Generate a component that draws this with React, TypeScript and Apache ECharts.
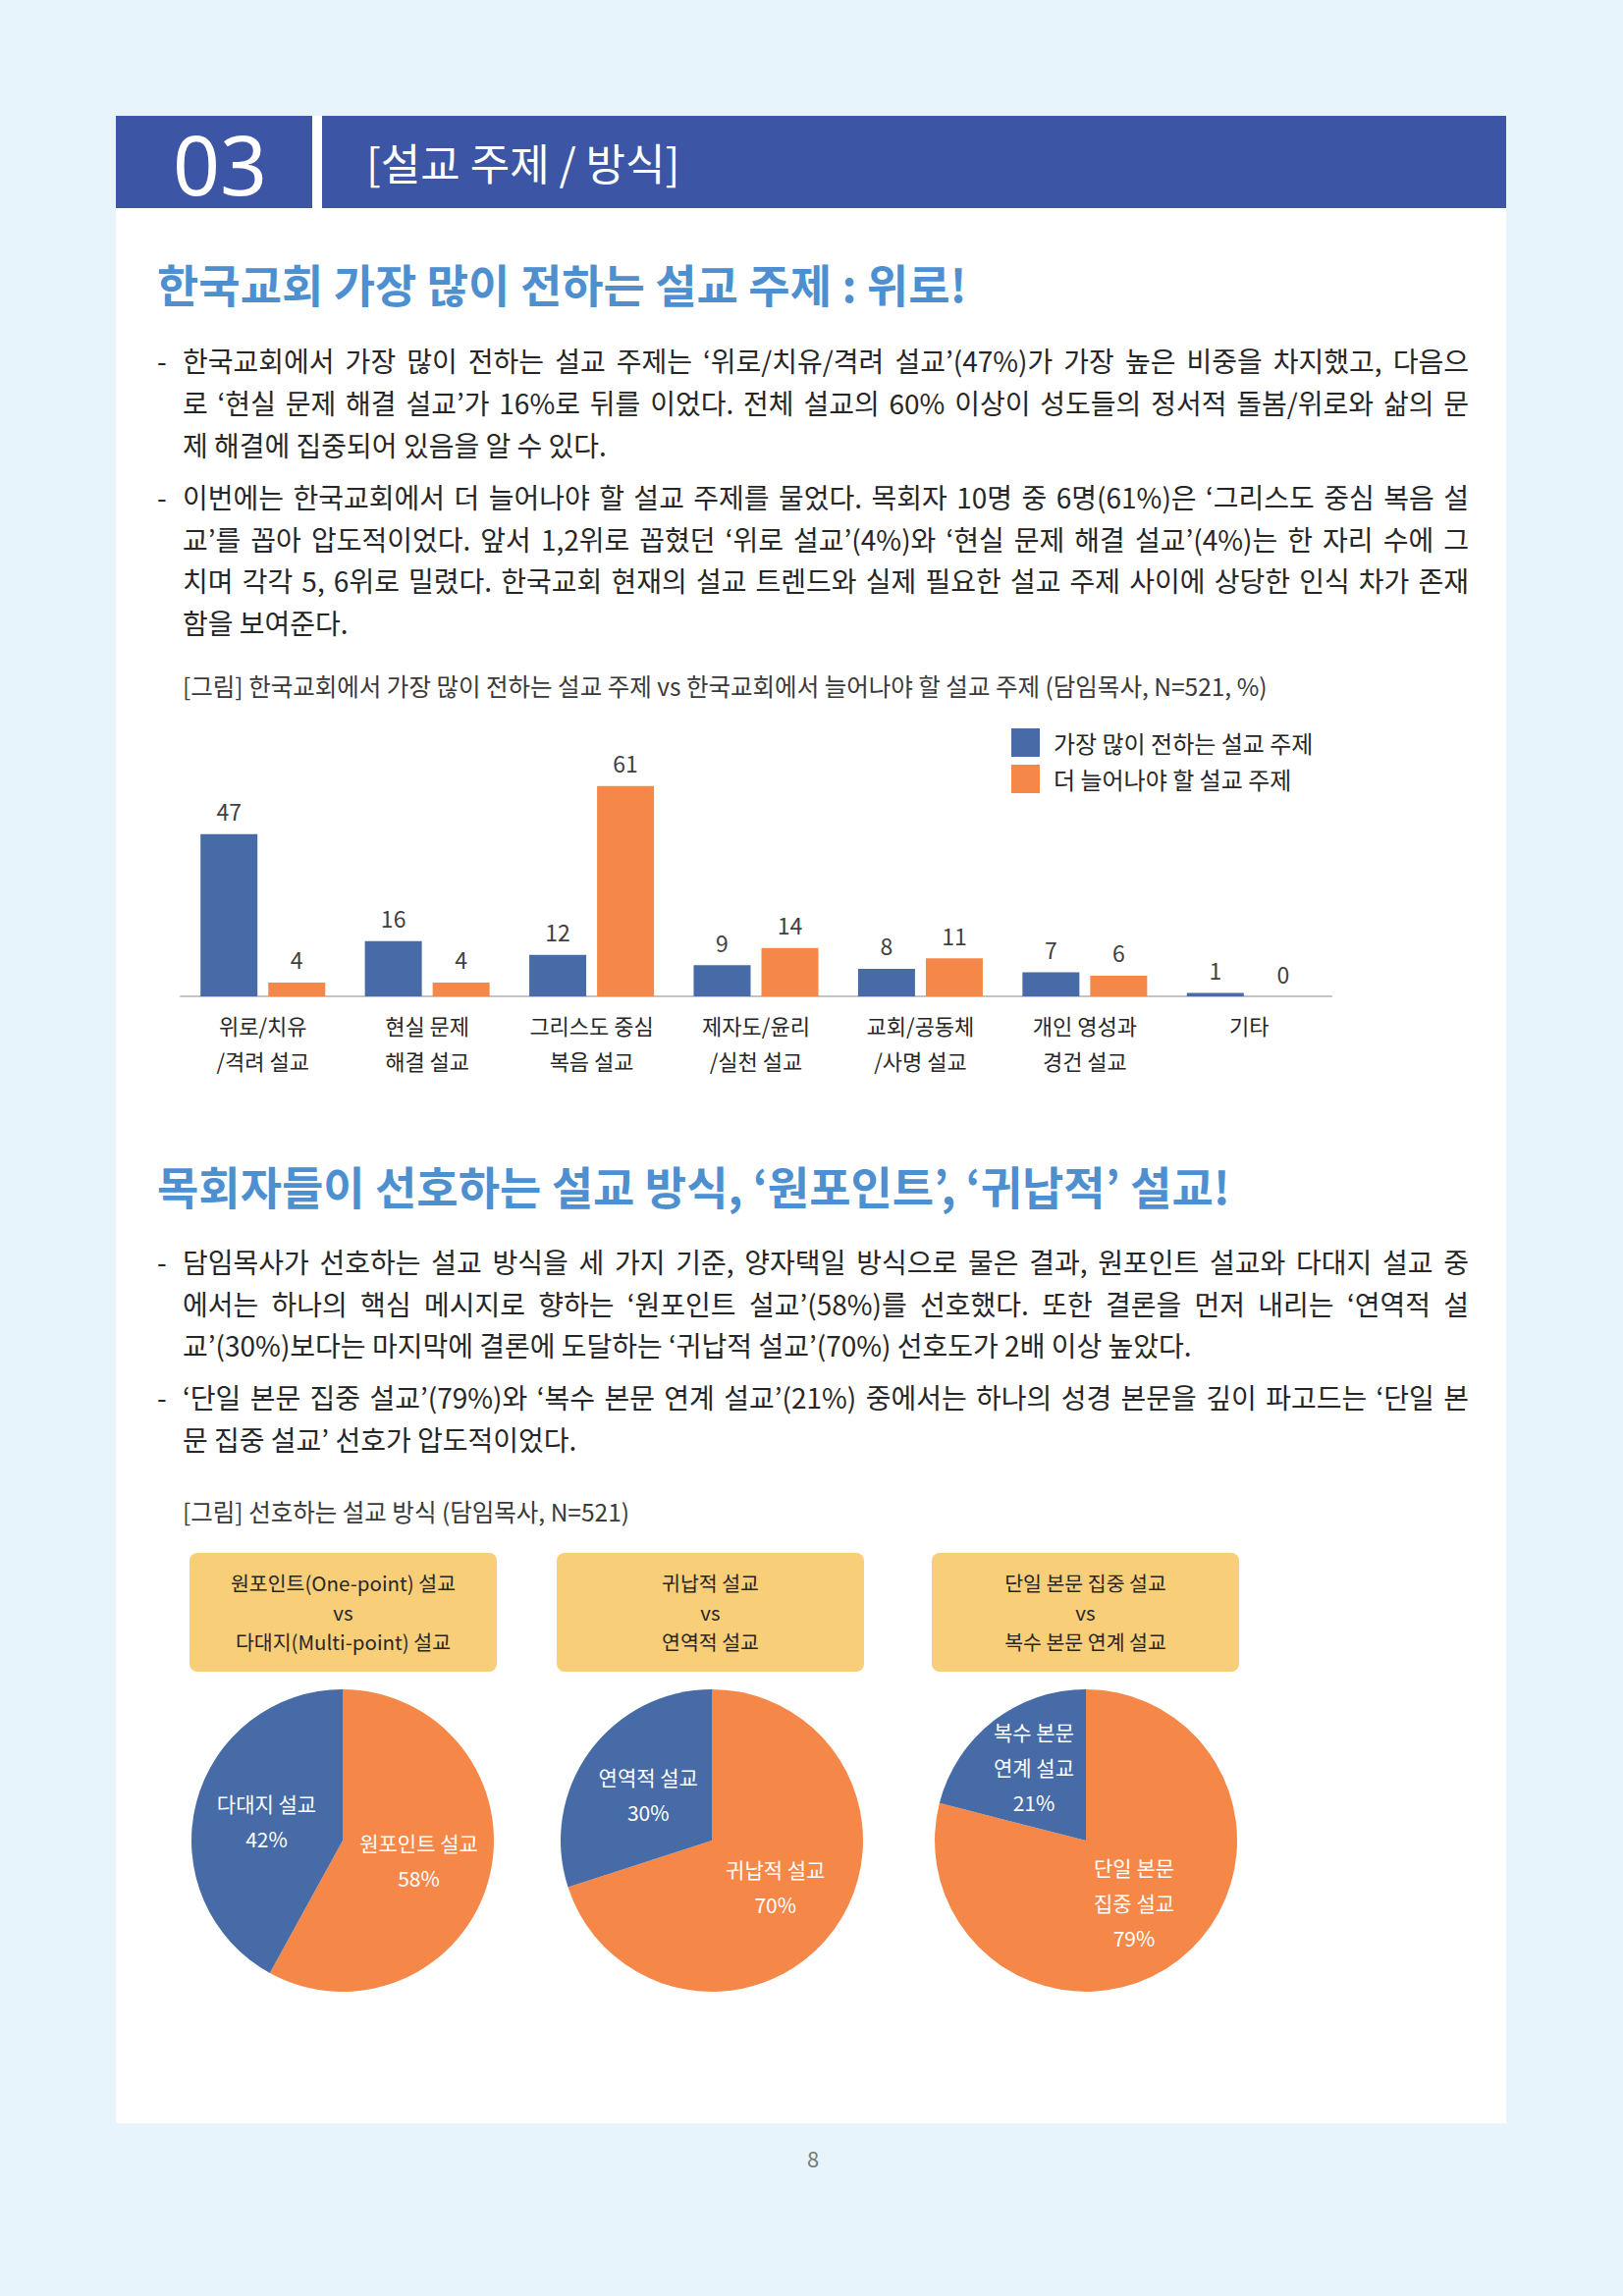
import React, { useEffect, useRef } from "react";
import * as echarts from "echarts";

// ---- chart data ----
const topicCategories = [
  "위로/치유\n/격려 설교",
  "현실 문제\n해결 설교",
  "그리스도 중심\n복음 설교",
  "제자도/윤리\n/실천 설교",
  "교회/공동체\n/사명 설교",
  "개인 영성과\n경건 설교",
  "기타",
];
const mostPreached = [47, 16, 12, 9, 8, 7, 1];
const shouldIncrease = [4, 4, 61, 14, 11, 6, 0];
const barSeriesNames = ["가장 많이 전하는 설교 주제", "더 늘어나야 할 설교 주제"];

const onePointNames = ["원포인트 설교", "다대지 설교"];
const onePointValues = [58, 42];
const inductiveNames = ["귀납적 설교", "연역적 설교"];
const inductiveValues = [70, 30];
const singleTextNames = ["단일 본문\n집중 설교", "복수 본문\n연계 설교"];
const singleTextValues = [79, 21];

const pieBoxTitles = [
  ["원포인트(One-point) 설교", "vs", "다대지(Multi-point) 설교"],
  ["귀납적 설교", "vs", "연역적 설교"],
  ["단일 본문 집중 설교", "vs", "복수 본문 연계 설교"],
];

// ---- page text ----
const sectionNo = "03";
const sectionTitle = "[설교 주제 / 방식]";
const heading1 = "한국교회 가장 많이 전하는 설교 주제 : 위로!";
const heading2 = "목회자들이 선호하는 설교 방식, ‘원포인트’, ‘귀납적’ 설교!";
const para1 = [
  "한국교회에서 가장 많이 전하는 설교 주제는 ‘위로/치유/격려 설교’(47%)가 가장 높은 비중을 차지했고, 다음으",
  "로 ‘현실 문제 해결 설교’가 16%로 뒤를 이었다. 전체 설교의 60% 이상이 성도들의 정서적 돌봄/위로와 삶의 문",
  "제 해결에 집중되어 있음을 알 수 있다.",
];
const para2 = [
  "이번에는 한국교회에서 더 늘어나야 할 설교 주제를 물었다. 목회자 10명 중 6명(61%)은 ‘그리스도 중심 복음 설",
  "교’를 꼽아 압도적이었다. 앞서 1,2위로 꼽혔던 ‘위로 설교’(4%)와 ‘현실 문제 해결 설교’(4%)는 한 자리 수에 그",
  "치며 각각 5, 6위로 밀렸다. 한국교회 현재의 설교 트렌드와 실제 필요한 설교 주제 사이에 상당한 인식 차가 존재",
  "함을 보여준다.",
];
const para3 = [
  "담임목사가 선호하는 설교 방식을 세 가지 기준, 양자택일 방식으로 물은 결과, 원포인트 설교와 다대지 설교 중",
  "에서는 하나의 핵심 메시지로 향하는 ‘원포인트 설교’(58%)를 선호했다. 또한 결론을 먼저 내리는 ‘연역적 설",
  "교’(30%)보다는 마지막에 결론에 도달하는 ‘귀납적 설교’(70%) 선호도가 2배 이상 높았다.",
];
const para4 = [
  "‘단일 본문 집중 설교’(79%)와 ‘복수 본문 연계 설교’(21%) 중에서는 하나의 성경 본문을 깊이 파고드는 ‘단일 본",
  "문 집중 설교’ 선호가 압도적이었다.",
];
const caption1 = "[그림] 한국교회에서 가장 많이 전하는 설교 주제 vs 한국교회에서 늘어나야 할 설교 주제 (담임목사, N=521, %)";
const caption2 = "[그림] 선호하는 설교 방식 (담임목사, N=521)";
const pageNumber = "8";

const FONT = "'Noto Sans CJK KR', 'Noto Sans', sans-serif";
const BLUE = "#466BA6";
const ORANGE = "#F58849";
const TEXT = "#262626";

const BODY_LEFT = 186;
const BODY_RIGHT = 1496;
const BODY_SIZE = 28;

let measureCtx: CanvasRenderingContext2D | null = null;
function measure(text: string, font: string) {
  if (!measureCtx) measureCtx = document.createElement("canvas").getContext("2d");
  if (!measureCtx) return text.length * BODY_SIZE;
  measureCtx.font = font;
  return measureCtx.measureText(text).width;
}

// One bulleted paragraph; every line but the last is justified across the column.
function paragraph(lines: string[], ys: number[]) {
  const font = `${BODY_SIZE}px ${FONT}`;
  const els: any[] = [
    {
      type: "text",
      x: 160,
      y: ys[0],
      style: { text: "-", font, fill: TEXT, verticalAlign: "middle" },
    },
  ];
  lines.forEach((line, i) => {
    const last = i === lines.length - 1;
    const words = line.split(" ");
    if (last || words.length < 2) {
      els.push({
        type: "text",
        x: BODY_LEFT,
        y: ys[i],
        style: { text: line, font, fill: TEXT, verticalAlign: "middle" },
      });
      return;
    }
    const widths = words.map((w) => measure(w, font));
    const total = widths.reduce((a, b) => a + b, 0);
    const gap = (BODY_RIGHT - BODY_LEFT - total) / (words.length - 1);
    let x = BODY_LEFT;
    words.forEach((w, k) => {
      els.push({
        type: "text",
        x,
        y: ys[i],
        style: { text: w, font, fill: TEXT, verticalAlign: "middle" },
      });
      x += widths[k] + gap;
    });
  });
  return els;
}

function pieSeries(names: string[], values: number[], cx: number, smallOffset?: number[]) {
  return {
    type: "pie",
    center: [cx, 1875],
    radius: 154,
    startAngle: 90,
    clockwise: true,
    silent: true,
    label: {
      show: true,
      position: "inside",
      color: "#ffffff",
      fontSize: 21,
      lineHeight: 36,
      fontFamily: FONT,
      formatter: "{b}\n{c}%",
    },
    labelLine: { show: false },
    data: names.map((n, i) => ({
      name: n,
      value: values[i],
      itemStyle: { color: i === 0 ? ORANGE : BLUE },
      label: i === 1 && smallOffset ? { offset: smallOffset } : undefined,
    })),
  };
}

export default function App() {
  const ref = useRef<HTMLDivElement>(null);

  useEffect(() => {
    if (!ref.current) return;
    const chart = echarts.init(ref.current, null, { renderer: "svg" });

    const boxLefts = [193, 567, 949];
    const boxEls: any[] = [];
    pieBoxTitles.forEach((lines, i) => {
      boxEls.push({
        type: "rect",
        shape: { x: boxLefts[i], y: 1582, width: 313, height: 121, r: 8 },
        style: { fill: "#F9CE78" },
      });
      lines.forEach((t, j) => {
        boxEls.push({
          type: "text",
          x: boxLefts[i] + 156.5,
          y: 1612 + j * 30,
          style: {
            text: t,
            font: `20.5px ${FONT}`,
            fill: TEXT,
            align: "center",
            verticalAlign: "middle",
          },
        });
      });
    });

    const option: any = {
      animation: false,
      backgroundColor: "#E8F4FC",
      graphic: [
        { type: "rect", z: -10, shape: { x: 118, y: 118, width: 1416, height: 2045 }, style: { fill: "#ffffff" } },
        { type: "rect", shape: { x: 118, y: 118, width: 200, height: 94 }, style: { fill: "#3C55A4" } },
        { type: "rect", shape: { x: 328, y: 118, width: 1206, height: 94 }, style: { fill: "#3C55A4" } },
        {
          type: "text",
          x: 224,
          y: 166,
          style: {
            text: sectionNo,
            font: `84px 'Liberation Sans Narrow', 'Noto Sans', sans-serif`,
            fill: "#ffffff",
            align: "center",
            verticalAlign: "middle",
          },
        },
        {
          type: "text",
          x: 373,
          y: 165,
          style: { text: sectionTitle, font: `44px ${FONT}`, fill: "#ffffff", verticalAlign: "middle" },
        },
        {
          type: "text",
          x: 160,
          y: 288,
          style: { text: heading1, font: `bold 46px ${FONT}`, fill: "#4E8FD0", verticalAlign: "middle" },
        },
        ...paragraph(para1, [367, 410, 453]),
        ...paragraph(para2, [506, 549, 591, 634]),
        {
          type: "text",
          x: 186,
          y: 698,
          style: { text: caption1, font: `24.5px ${FONT}`, fill: "#3a3a3a", verticalAlign: "middle" },
        },
        {
          type: "text",
          x: 160,
          y: 1207,
          style: { text: heading2, font: `bold 46px ${FONT}`, fill: "#4E8FD0", verticalAlign: "middle" },
        },
        ...paragraph(para3, [1285, 1328, 1370]),
        ...paragraph(para4, [1423, 1466]),
        {
          type: "text",
          x: 186,
          y: 1539,
          style: { text: caption2, font: `24.5px ${FONT}`, fill: "#3a3a3a", verticalAlign: "middle" },
        },
        ...boxEls,
        {
          type: "text",
          x: 828,
          y: 2198,
          style: { text: pageNumber, font: `22px ${FONT}`, fill: "#7a7a7a", align: "center", verticalAlign: "middle" },
        },
      ],
      legend: {
        orient: "vertical",
        left: 1030,
        top: 742,
        padding: 0,
        itemWidth: 29,
        itemHeight: 29,
        itemGap: 8,
        icon: "rect",
        data: barSeriesNames,
        textStyle: { fontSize: 24, color: TEXT, fontFamily: FONT, padding: [0, 0, 0, 9] },
      },
      grid: { left: 184, width: 1172, top: 769, height: 246 },
      xAxis: {
        type: "category",
        data: topicCategories,
        axisLine: { lineStyle: { color: "#C4C4C4", width: 2 } },
        axisTick: { show: false },
        axisLabel: {
          fontSize: 22,
          lineHeight: 36,
          color: TEXT,
          fontFamily: FONT,
          margin: 11,
          interval: 0,
        },
      },
      yAxis: { type: "value", min: 0, max: 70, show: false, splitLine: { show: false } },
      series: [
        {
          name: barSeriesNames[0],
          type: "bar",
          data: mostPreached,
          barWidth: 58,
          barGap: "19%",
          itemStyle: { color: BLUE },
          label: { show: true, position: "top", distance: 12, fontSize: 23, color: "#404040", fontFamily: FONT },
        },
        {
          name: barSeriesNames[1],
          type: "bar",
          data: shouldIncrease,
          barWidth: 58,
          itemStyle: { color: ORANGE },
          label: { show: true, position: "top", distance: 12, fontSize: 23, color: "#404040", fontFamily: FONT },
        },
        pieSeries(onePointNames, onePointValues, 349),
        pieSeries(inductiveNames, inductiveValues, 725),
        pieSeries(singleTextNames, singleTextValues, 1106, [-4, -12]),
      ],
    };

    chart.setOption(option);
    return () => chart.dispose();
  }, []);

  return (
    <div
      ref={ref}
      style={{ position: "absolute", left: 0, top: 0, width: 1653, height: 2339 }}
    />
  );
}
